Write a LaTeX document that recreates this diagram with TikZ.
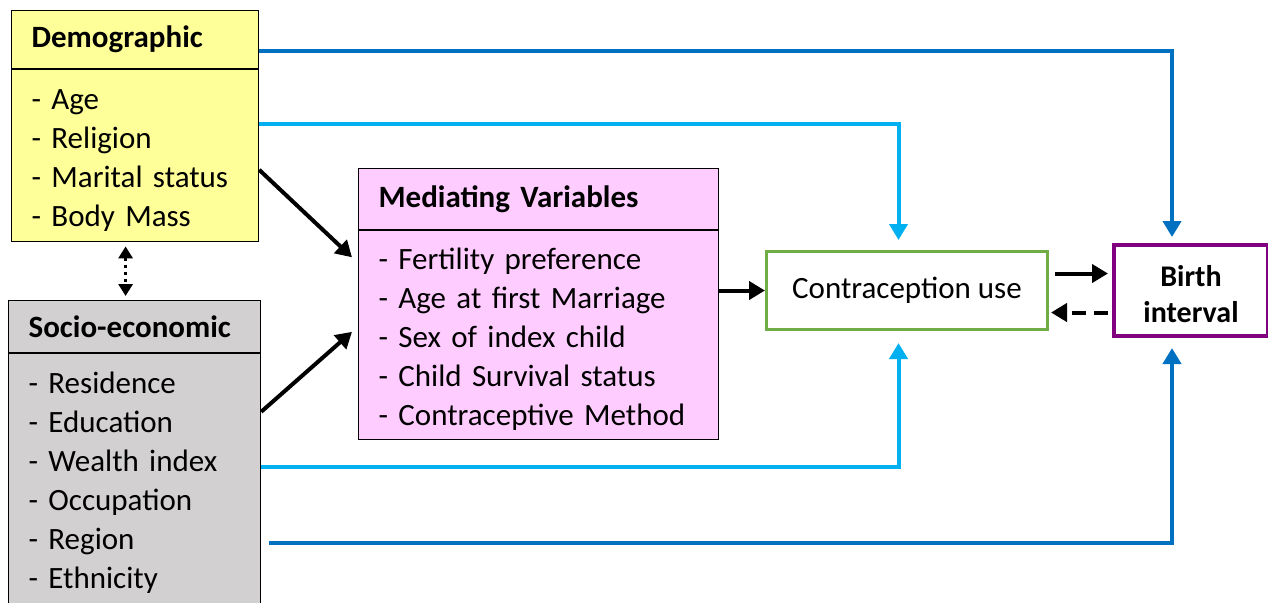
\documentclass[tikz,border=0pt]{standalone}
\usepackage{fontspec}
\setmainfont{Carlito}
\usetikzlibrary{arrows.meta,positioning}
\definecolor{demoyellow}{RGB}{255,255,153}
\definecolor{sociogray}{RGB}{210,208,208}
\definecolor{medpink}{RGB}{255,204,255}
\definecolor{darkblue}{RGB}{0,112,192}
\definecolor{lightblue}{RGB}{0,176,240}
\definecolor{contragreen}{RGB}{112,173,71}
\definecolor{birthpurple}{RGB}{128,0,128}
\tikzstyle{head} = [draw, line width=0.6pt, anchor=north west, inner xsep=10pt, inner ysep=0pt, align=left, font=\bfseries\fontsize{15.5}{19.5}\selectfont]
\tikzstyle{body} = [draw, line width=0.6pt, anchor=north west, inner xsep=10pt, inner ysep=0pt, align=left, font=\fontsize{15.5}{19.5}\selectfont]
\tikzstyle{arrow} = [draw, line width=2pt, -{Triangle[length=8pt,width=9pt]}]
\tikzstyle{darkarrow} = [arrow, darkblue]
\tikzstyle{lightarrow} = [arrow, lightblue]

\begin{document}
\begin{tikzpicture}[x=0.5pt, y=-0.5pt]
      \clip (0,0) rectangle (1268,602);
      \fill[white] (0,0) rectangle (1268,602);

      \node (demohead) at (11,10) [head, fill=demoyellow, text width=103.5pt, minimum height=29pt] {Demographic};
      \node (demobody) at (demohead.south west) [body, fill=demoyellow, text width=103.5pt, minimum height=86pt]
        {\rule{0pt}{15pt}- Age\\- Religion\\- Marital status\\- Body Mass};

      \node (sociohead) at (8,300) [head, fill=sociogray, text width=106pt, minimum height=26pt] {Socio-economic};
      \node (sociobody) at (sociohead.south west) [body, fill=sociogray, text width=106pt, minimum height=129pt]
        {- Residence\\- Education\\- Wealth index\\- Occupation\\- Region\\- Ethnicity};

      \node (medhead) at (358,168) [head, fill=medpink, text width=160pt, minimum height=30.5pt] {Mediating Variables};
      \node (medbody) at (medhead.south west) [body, fill=medpink, text width=160pt, minimum height=104.5pt]
        {\rule{0pt}{15pt}- Fertility preference\\- Age at first Marriage\\- Sex of index child\\- Child Survival status\\- Contraceptive Method};

      \node (contra) at (765,250) [draw=contragreen, line width=1.5pt, anchor=north west, minimum width=140.5pt, minimum height=39pt,
        font=\fontsize{15.5}{19.5}\selectfont] {Contraception use};
      \node (birth) at (1112,243) [draw=birthpurple, line width=2pt, anchor=north west, minimum width=77pt, minimum height=45.5pt,
        align=center, font=\bfseries\fontsize{15}{18}\selectfont] {\rule{0pt}{14pt}Birth\\interval};

      \draw[darkarrow, shorten >=3pt] ([yshift=-5.5pt]demohead.east) -| ([xshift=-9.5pt]birth.north);
      \draw[lightarrow, shorten >=5pt] ([yshift=16pt]demobody.east) -| ([xshift=-4.25pt]contra.north);
      \draw[lightarrow, shorten >=6pt] ([yshift=8pt]sociobody.east) -| ([xshift=-4.25pt]contra.south);
      \draw[darkarrow, shorten <=4pt, shorten >=5pt] ([yshift=-30pt]sociobody.east) -| ([xshift=-9.5pt]birth.south);

      \draw[arrow] ([yshift=-7pt]demobody.east) -- ([xshift=-3pt, yshift=39pt]medbody.west);
      \draw[arrow] ([yshift=35.5pt]sociobody.east) -- ([xshift=-3pt, yshift=1.75pt]medbody.west);
      \draw[arrow] (contra.west -| medbody.east) -- (contra.west);
      \draw[arrow, shorten <=3pt, shorten >=2pt] ([yshift=8.5pt]contra.east) -- ([yshift=8.5pt]contra.east -| birth.west);
      \draw[arrow, dash pattern=on 7pt off 4pt, shorten <=2pt, shorten >=1pt] ([yshift=-11pt]birth.west) -- ([yshift=-11pt]birth.west -| contra.east);

      \draw[line width=1.5pt, dotted, {Triangle[length=6pt,width=7pt]}-{Triangle[length=6pt,width=7pt]}, shorten <=2pt, shorten >=2pt]
        ([xshift=-4.75pt]demobody.south) -- ([xshift=-4.75pt]demobody.south |- sociohead.north);
    \end{tikzpicture}
\end{document}
